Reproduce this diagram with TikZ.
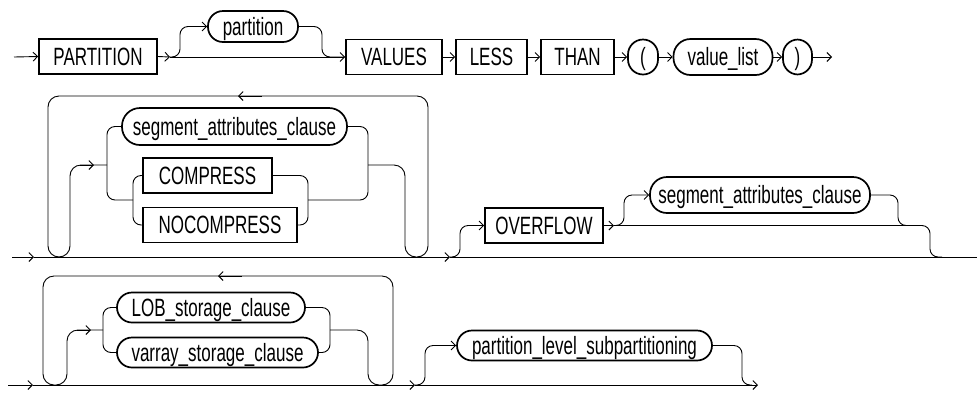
\documentclass[tikz,border=0pt]{standalone}
\usepackage{fontspec}
\setmainfont{Liberation Sans}[FakeStretch=0.68]
\usetikzlibrary{arrows.meta}
\newcommand\rrfont{\fontsize{25}{27}\selectfont}
\begin{document}
\begin{tikzpicture}[x=1pt,y=-1pt,line width=0.9pt,
  arr/.style={-{Straight Barb[length=4.5pt,width=9pt]}},
  rc/.style={rounded corners=8pt},
  rcl/.style={rounded corners=11pt},
  base/.style={draw,line width=1.7pt,inner sep=0pt,text height=17.5pt,text depth=0pt,font=\rrfont},
  kw/.style={base,rectangle,minimum height=35pt},
  ov/.style={base,rectangle,rounded corners=17pt,minimum height=36pt},
  ovs/.style={base,rectangle,rounded corners=15pt,minimum height=30pt}]
\useasboundingbox (0,0) rectangle (977,392);

% ---------- row 1 ----------
\node[kw,minimum width=118pt] (partition) at (98,56.5) {PARTITION};
\node[ovs,minimum width=90pt,minimum height=31pt] (part) at (253,26.5) {partition};
\node[kw,minimum width=96pt] (values) at (394,57) {VALUES};
\node[kw,minimum width=71pt] (less) at (491.5,57) {LESS};
\node[kw,minimum width=73pt] (than) at (577.5,57) {THAN};
\node[ovs,minimum width=30pt,minimum height=35pt] (lp) at (643,57) {(};
\node[ov,minimum width=99pt] (vlist) at (723,57) {value\_list};
\node[ovs,minimum width=29pt,minimum height=35pt] (rp) at (797.5,57) {)};

\coordinate (s1) at (14,57);
\coordinate (j1) at (170,57);
\coordinate (e1) at (832,57);
\draw[arr] (s1) -- (partition.west);
\draw[arr] (partition.east) -- (j1);
\draw[arr] (j1) -- (values.west);
\draw[rc,arr] (j1) -| (180,26.5) -- (part.west);
\draw[rc] (part.east) -| (322,57) -- (values.west);
\draw[arr] (values.east) -- (less.west);
\draw[arr] (less.east) -- (than.west);
\draw[arr] (than.east) -- (lp.west);
\draw[arr] (lp.east) -- (vlist.west);
\draw[arr] (vlist.east) -- (rp.west);
\draw[arr] (rp.east) -- (e1);

% ---------- row 2 ----------
\node[ov,minimum width=225pt,minimum height=37pt,rounded corners=18pt] (seg1) at (234.5,126.5) {segment\_attributes\_clause};
\node[kw,minimum width=129pt] (comp) at (207.5,175.5) {COMPRESS};
\node[kw,minimum width=154pt] (nocomp) at (220,225) {NOCOMPRESS};
\node[kw,minimum width=118pt] (overflow) at (544,225.5) {OVERFLOW};
\node[ov,minimum width=220pt] (seg2) at (760,195) {segment\_attributes\_clause};

\coordinate (s2) at (12,257);
\coordinate (a2) at (34,257);
\coordinate (j2) at (450,257);
\coordinate (e2) at (977,257);
\coordinate (j4) at (614,225.5);
\draw[arr] (s2) -- (a2);
\draw[arr] (a2) -- (j2);
\draw (j2) -- (e2);
% loop
\draw[rcl] (107,165) -- (70,165) -- (70,257) -- (48,257) -- (48,96) -- (428,96)
  -- (428,257) -- (405,257) -- (405,165) -- (368,165);
\draw[arr] (80,165) -- (94,165);
\draw[arr] (262,96) -- (238,96);
% choice
\draw[rc] (seg1.west) -| (107,200) -- (133,200);
\draw[rc] (comp.west) -| (133,225) -- (nocomp.west);
\draw[rc] (comp.east) -| (308,225) -- (nocomp.east);
\draw[rc] (seg1.east) -| (368,200) -- (308,200);
% overflow
\draw[rc,arr] (j2) -| (460,225.5) -- (overflow.west);
\draw[arr] (overflow.east) -- (j4);
\draw[rc,arr] (j4) -| (624,195) -- (seg2.west);
\draw[rc] (seg2.east) -| (898,225.5) -- (910,225.5);
\draw[rc] (j4) -| (930,257) -- (942,257);

% ---------- row 3 ----------
\node[ovs,minimum width=188pt] (lob) at (211,307.5) {LOB\_storage\_clause};
\node[ovs,minimum width=201pt] (varray) at (217.5,352.5) {varray\_storage\_clause};
\node[ovs,minimum width=255pt] (pls) at (584.5,345.5) {partition\_level\_subpartitioning};

\coordinate (s3) at (8,385);
\coordinate (a3) at (33,385);
\coordinate (j5) at (415,385);
\coordinate (e3) at (758,385);
\draw[arr] (s3) -- (a3);
\draw[arr] (a3) -- (j5);
\draw[arr] (j5) -- (e3);
\draw[rcl] (103,330) -- (67,330) -- (67,385) -- (43,385) -- (43,276) -- (393,276)
  -- (393,385) -- (368,385) -- (368,330) -- (330,330);
\draw[arr] (77,330) -- (91,330);
\draw[arr] (242,276) -- (218,276);
\draw[rc] (lob.west) -| (103,352.5) -- (varray.west);
\draw[rc] (lob.east) -| (330,352.5) -- (varray.east);
\draw[rc,arr] (j5) -| (425,345.5) -- (pls.west);
\draw[rc] (pls.east) -| (742,385) -- (752,385);
\end{tikzpicture}
\end{document}
